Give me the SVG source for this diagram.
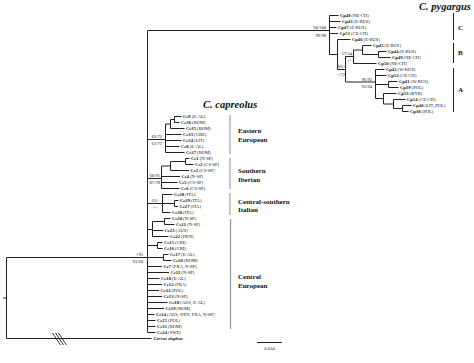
<svg xmlns="http://www.w3.org/2000/svg" width="474" height="363" viewBox="0 0 474 363">
<style>
.c{stroke:#222;stroke-width:1;fill:none}
.t{font-family:"Liberation Serif","Times New Roman",serif;font-size:4.6px;fill:#111}
.b{font-weight:bold}
.s{font-family:"Liberation Serif","Times New Roman",serif;font-size:4.6px;fill:#222}
.e{text-anchor:end}
.g{font-family:"Liberation Serif","Times New Roman",serif;font-size:7px;font-weight:bold;fill:#111}
.h{font-family:"Liberation Serif","Times New Roman",serif;font-size:10.5px;font-weight:bold;font-style:italic;fill:#111}
.gb{stroke:#bbb;stroke-width:1.6;fill:none}
.kb{stroke:#222;stroke-width:1;fill:none}
</style>
<rect width="474" height="363" fill="#fff"/>
<g id="connectors" class="c">
<path d="M147.5 30.5V332.5M147.5 257.5H6.5V338.5H151.5M3 298H6.5"/>
<path d="M52.5 333L60.5 345M55.5 333L63.5 345M58.5 333L66.5 345" stroke-width="0.9"/>
<!-- pygargus -->
<path d="M147.5 30.5H329.5M329.5 15.5V54.5M329.5 15.5H338.5M329.5 21.5H340.5M329.5 27.5H336.5M329.5 33.5H338M329.5 54.5H337.5"/>
<path d="M337.5 39.5V69.5M337.5 39.5H350.5M337.5 69.5H345.5M345.5 56.5V82M345.5 56.5H353.5M353.5 50V63.5M353.5 63.5H376.5M353.5 50H362.5M362.5 45.5V54.5M362.5 45.5H371.5M362.5 54.5H378.5M378.5 51.5V57.5M378.5 51.5H386.5M378.5 57.5H390.5"/>
<path d="M345.5 82H375.5M375.5 69.5V98.5M375.5 69.5H384.5M375.5 75.5H386.5M375.5 84.5H388.5M388.5 81.5V87.5M388.5 81.5H397.5M388.5 87.5H398.5M375.5 98.5H383.5M383.5 93.5V104M383.5 93.5H396.5M383.5 104H393.5M393.5 99.5V108.5M393.5 99.5H405.5M393.5 108.5H402.5M402.5 105.5V111.5M402.5 105.5H411.5M402.5 111.5H408.5"/>
<!-- eastern -->
<path d="M147.5 139.5H165.5M165.5 124V152.5M165.5 124H170.5M170.5 119.5V128.5M170.5 119.5H174.5M174.5 116.5V122.5M174.5 116.5H181.5M174.5 122.5H179.5M170.5 128.5H184.5M165.5 134.5H181.5M165.5 140.5H181.5M165.5 146.5H179.5M165.5 152.5H184.5"/>
<!-- southern iberian -->
<path d="M147.5 178.5H161.5M161.5 166V188.5M161.5 166H170.5M170.5 161.5V170.5M170.5 161.5H185.5M185.5 158.5V164.5M185.5 158.5H189.5M185.5 164.5H193.5M170.5 170.5H189M161.5 176.5H180M161.5 182.5H177.5M161.5 188.5H179.5"/>
<!-- italian -->
<path d="M147.5 203.5H162.5M162.5 194.5V212.5M162.5 194.5H172.5M162.5 203.5H174.5M174.5 200.5V206.5M174.5 200.5H178.5M174.5 206.5H178M162.5 212.5H170.5"/>
<!-- central european -->
<path d="M147.5 229.5H152.5M152.5 221.5V236.5M152.5 221.5H164.5M164.5 218.5V224.5M164.5 218.5H170.5M164.5 224.5H174.5M152.5 230.5H163M152.5 236.5H168.5"/>
<path d="M147.5 245.5H157.5M157.5 242.5V248.5M157.5 242.5H162.5M157.5 248.5H162.5M147.5 257.5H163.5M163.5 254.5V260.5M163.5 254.5H168.5M163.5 260.5H171.5"/>
<path d="M147.5 266.5H162M147.5 272.5H169M147.5 278.5H159.5M147.5 284.5H162M147.5 290.5H159M147.5 296.5H162M147.5 302.5H167.5M147.5 308.5H164M147.5 314.5H154.5M147.5 320.5H155.5M147.5 326.5H155.5M147.5 332.5H155.5"/>
</g>
<g id="brackets">
<path class="gb" d="M230 115V154M230 158V189M230 193V215"/>
<path d="M230.5 219V329" stroke="#999" stroke-width="1.3" fill="none"/>
<path class="kb" d="M453.5 13V40M453.5 43V63M453.5 68V112"/>
<path class="kb" d="M257 342.5H282"/>
</g>
<g id="titles">
<text class="h" x="419" y="10">C. pygargus</text>
<text class="h" x="203" y="108">C. capreolus</text>
<text class="g" x="458" y="29.5">C</text>
<text class="g" x="458" y="54.5">B</text>
<text class="g" x="458" y="91.5">A</text>
<text class="g" x="238" y="132.5">Eastern</text>
<text class="g" x="238" y="141.5">European</text>
<text class="g" x="238" y="173">Southern</text>
<text class="g" x="238" y="181.5">Iberian</text>
<text class="g" x="238" y="204">Central-southern</text>
<text class="g" x="238" y="212">Italian</text>
<text class="g" x="238" y="278.5">Central</text>
<text class="g" x="238" y="287.5">European</text>
<text class="s" x="269.5" y="349.5" text-anchor="middle">0.034</text>
</g>
<g id="support">
<text class="s e" x="326" y="28.5">94/100</text>
<text class="s e" x="326" y="36.5">99/98</text>
<text class="s e" x="352" y="55">57/54</text>
<text class="s e" x="351" y="62">-/-</text>
<text class="s e" x="345" y="68">96/-</text>
<text class="s e" x="345" y="75.5">-/72</text>
<text class="s e" x="372" y="80.5">96/92</text>
<text class="s e" x="372" y="88">93/94</text>
<text class="s e" x="162" y="138">83/72</text>
<text class="s e" x="162" y="145">63/72</text>
<text class="s e" x="160" y="177">68/91</text>
<text class="s e" x="160" y="184">87/78</text>
<text class="s e" x="159" y="202">63/-</text>
<text class="s e" x="157" y="209">-/-</text>
<text class="s e" x="143" y="255.5">-/93</text>
<text class="s e" x="143" y="263">93/60</text>
</g>
<g id="pygargus-tips" class="t">
<g id="Cp48"><text x="340" y="17.1"><tspan class="b">Cp48</tspan> (NE-CH)</text></g>
<g id="Cp43"><text x="342" y="23.1"><tspan class="b">Cp43</tspan> (E-RUS)</text></g>
<g id="Cp47"><text x="338" y="29.1"><tspan class="b">Cp47</tspan> (E-RUS)</text></g>
<g id="Cp51"><text x="339.5" y="35.1"><tspan class="b">Cp51</tspan> (CE-CH)</text></g>
<g id="Cp46"><text x="352" y="41.1"><tspan class="b">Cp46</tspan> (E-RUS)</text></g>
<g id="Cp45"><text x="373" y="47.1"><tspan class="b">Cp45</tspan> (E-RUS)</text></g>
<g id="Cp44"><text x="388" y="53.1"><tspan class="b">Cp44</tspan> (E-RUS)</text></g>
<g id="Cp49"><text x="392" y="59.1"><tspan class="b">Cp49</tspan> (NE-CH)</text></g>
<g id="Cp50"><text x="378" y="65.1"><tspan class="b">Cp50</tspan> (NE-CH)</text></g>
<g id="Cp42"><text x="386" y="71.1"><tspan class="b">Cp42</tspan> (W-RUS)</text></g>
<g id="Cp52"><text x="388" y="77.1"><tspan class="b">Cp52</tspan> (CE-CH)</text></g>
<g id="Cp41"><text x="399" y="83.1"><tspan class="b">Cp41</tspan> (W-RUS)</text></g>
<g id="Cp39"><text x="400" y="89.1"><tspan class="b">Cp39</tspan> (POL)</text></g>
<g id="Cp53"><text x="398" y="95.1"><tspan class="b">Cp53</tspan> (KYR)</text></g>
<g id="Cp54"><text x="407" y="101.1"><tspan class="b">Cp54</tspan> (CE-CH)</text></g>
<g id="Cp40"><text x="413" y="107.1"><tspan class="b">Cp40</tspan> (LIT, POL)</text></g>
<g id="Cp38"><text x="410" y="113.1"><tspan class="b">Cp38</tspan> (POL)</text></g>
</g>
<g id="capreolus-tips" class="t">
<g id="Cc9"><text x="183" y="118.1"><tspan class="b">Cc9</tspan> (E-AL)</text></g>
<g id="Cc36"><text x="181" y="124.1"><tspan class="b">Cc36</tspan> (ROM)</text></g>
<g id="Cc35"><text x="186" y="130.1"><tspan class="b">Cc35</tspan> (ROM)</text></g>
<g id="Cc33"><text x="183" y="136.1"><tspan class="b">Cc33</tspan> (GRE)</text></g>
<g id="Cc34"><text x="183" y="142.1"><tspan class="b">Cc34</tspan> (LIT)</text></g>
<g id="Cc8"><text x="181" y="148.1"><tspan class="b">Cc8</tspan> (E-AL)</text></g>
<g id="Cc37"><text x="186" y="154.1"><tspan class="b">Cc37</tspan> (ROM)</text></g>
<g id="Cc1"><text x="191" y="160.1"><tspan class="b">Cc1</tspan> (N-SP)</text></g>
<g id="Cc2"><text x="195" y="166.1"><tspan class="b">Cc2</tspan> (CS-SP)</text></g>
<g id="Cc3"><text x="190.5" y="172.1"><tspan class="b">Cc3</tspan> (CS-SP)</text></g>
<g id="Cc4"><text x="181.5" y="178.1"><tspan class="b">Cc4</tspan> (N-SP)</text></g>
<g id="Cc5"><text x="179" y="184.1"><tspan class="b">Cc5</tspan> (CS-SP)</text></g>
<g id="Cc6"><text x="181" y="190.1"><tspan class="b">Cc6</tspan> (CS-SP)</text></g>
<g id="Cc28"><text x="174" y="196.1"><tspan class="b">Cc28</tspan> (ITA)</text></g>
<g id="Cc29"><text x="180" y="202.1"><tspan class="b">Cc29</tspan> (ITA)</text></g>
<g id="Cc27"><text x="179.5" y="208.1"><tspan class="b">Cc27</tspan> (ITA)</text></g>
<g id="Cc30"><text x="172" y="214.1"><tspan class="b">Cc30</tspan> (ITA)</text></g>
<g id="Cc20"><text x="172" y="220.1"><tspan class="b">Cc20</tspan> (N-SP)</text></g>
<g id="Cc21"><text x="176" y="226.1"><tspan class="b">Cc21</tspan> (N-SP)</text></g>
<g id="Cc23"><text x="164.5" y="232.1"><tspan class="b">Cc23</tspan> (AUS)</text></g>
<g id="Cc22"><text x="170" y="238.1"><tspan class="b">Cc22</tspan> (DEN)</text></g>
<g id="Cc15"><text x="164" y="244.1"><tspan class="b">Cc15</tspan> (CRI)</text></g>
<g id="Cc16"><text x="164" y="250.1"><tspan class="b">Cc16</tspan> (CRI)</text></g>
<g id="Cc17"><text x="170" y="256.1"><tspan class="b">Cc17</tspan> (E-AL)</text></g>
<g id="Cc26"><text x="173" y="262.1"><tspan class="b">Cc26</tspan> (ROM)</text></g>
<g id="Cc7"><text x="163.5" y="268.1"><tspan class="b">Cc7</tspan> (FRA, N-SP)</text></g>
<g id="Cc11"><text x="170.5" y="274.1"><tspan class="b">Cc11</tspan> (N-SP)</text></g>
<g id="Cc10"><text x="161" y="280.1"><tspan class="b">Cc10</tspan> (E-AL)</text></g>
<g id="Cc12"><text x="163.5" y="286.1"><tspan class="b">Cc12</tspan> (FRA)</text></g>
<g id="Cc32"><text x="160.5" y="292.1"><tspan class="b">Cc32</tspan> (POL)</text></g>
<g id="Cc13"><text x="163.5" y="298.1"><tspan class="b">Cc13</tspan> (N-SP)</text></g>
<g id="Cc18"><text x="169" y="304.1"><tspan class="b">Cc18</tspan> (AUS, E-AL)</text></g>
<g id="Cc19"><text x="165.5" y="310.1"><tspan class="b">Cc19</tspan> (ROM)</text></g>
<g id="Cc14"><text x="156" y="316.1"><tspan class="b">Cc14</tspan> (AUS, DEN, FRA, N-SP)</text></g>
<g id="Cc25"><text x="157" y="322.1"><tspan class="b">Cc25</tspan> (POL)</text></g>
<g id="Cc31"><text x="157" y="328.1"><tspan class="b">Cc31</tspan> (ROM)</text></g>
<g id="Cc24"><text x="157" y="334.1"><tspan class="b">Cc24</tspan> (SWE)</text></g>
<g id="Cervus"><text x="153.5" y="340.1" font-weight="bold" font-style="italic">Cervus elaphus</text></g>
</g>
</svg>
